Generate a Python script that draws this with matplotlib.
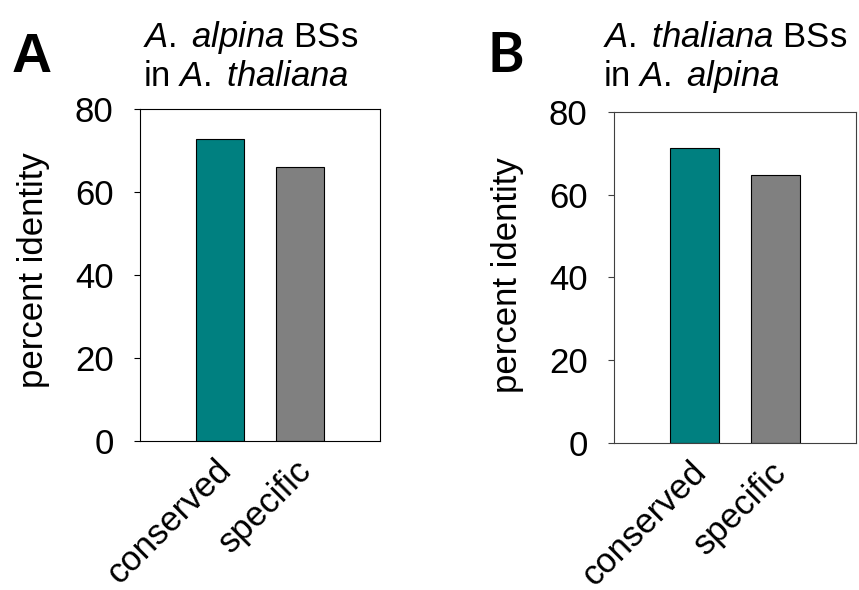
import numpy as np
import matplotlib
matplotlib.use('Agg')
import matplotlib.pyplot as plt
from matplotlib.transforms import ScaledTranslation

plt.rcParams['font.family'] = 'Liberation Sans'
plt.rcParams['mathtext.fontset'] = 'custom'
plt.rcParams['mathtext.rm'] = 'Liberation Sans'
plt.rcParams['mathtext.it'] = 'Liberation Sans:italic'

categories = ['conserved', 'specific']
colors = ['#008080', '#808080']

# percent identity of binding sites
alpina_in_thaliana = [72.7, 66.0]
thaliana_in_alpina = [71.2, 64.7]

yticks = [0, 20, 40, 60, 80]

W, H = 859, 590
fig = plt.figure(figsize=(W / 100, H / 100), dpi=100)

axA = fig.add_axes([140 / W, 149 / H, 240 / W, 332 / H])
axB = fig.add_axes([614 / W, 147 / H, 242 / W, 331 / H])


def draw_panel(ax, vals, frame):
    x = np.arange(len(categories))
    ax.bar(x, vals, width=0.6, color=colors, edgecolor='black', linewidth=0.8)
    ax.set_xlim(-1, 2)
    ax.set_ylim(0, 80)
    ax.set_yticks(yticks)
    ax.set_xticks(x)
    ax.set_xticklabels(categories, rotation=45, ha='right', va='top',
                       rotation_mode='anchor', fontsize=25)
    ax.tick_params(axis='x', length=0, pad=9)
    ax.tick_params(axis='y', length=4, width=0.8, pad=15, labelsize=25,
                   color=frame)
    # nudge rotated labels a bit to the left
    shift = ScaledTranslation(-4 / 72, 0, fig.dpi_scale_trans)
    for lab in ax.get_xticklabels():
        lab.set_transform(lab.get_transform() + shift)
    for s in ax.spines.values():
        s.set_linewidth(0.8)
        s.set_edgecolor(frame)


draw_panel(axA, alpina_in_thaliana, 'black')
draw_panel(axB, thaliana_in_alpina, '#404040')

# y axis labels
fig.text(34 / W, 1 - 270 / H, 'percent identity', rotation=90,
         ha='center', va='center', fontsize=25)
fig.text(508 / W, 1 - 275 / H, 'percent identity', rotation=90,
         ha='center', va='center', fontsize=25)

# panel titles
fig.text(143 / W, 1 - 47 / H, r'$\mathit{A.\;alpina}$ BSs', fontsize=25, va='baseline')
fig.text(143 / W, 1 - 86 / H, r'in $\mathit{A.\;thaliana}$', fontsize=25, va='baseline')
fig.text(603 / W, 1 - 47 / H, r'$\mathit{A.\;thaliana}$ BSs', fontsize=25, va='baseline')
fig.text(603 / W, 1 - 86 / H, r'in $\mathit{A.\;alpina}$', fontsize=25, va='baseline')

# panel letters
fig.text(12 / W, 1 - 72 / H, 'A', fontsize=40, fontweight='bold', va='baseline')
fig.text(488 / W, 1 - 72 / H, 'B', fontsize=40, fontweight='bold', va='baseline',
         family='Lato')

fig.savefig('out.png', dpi=100)
